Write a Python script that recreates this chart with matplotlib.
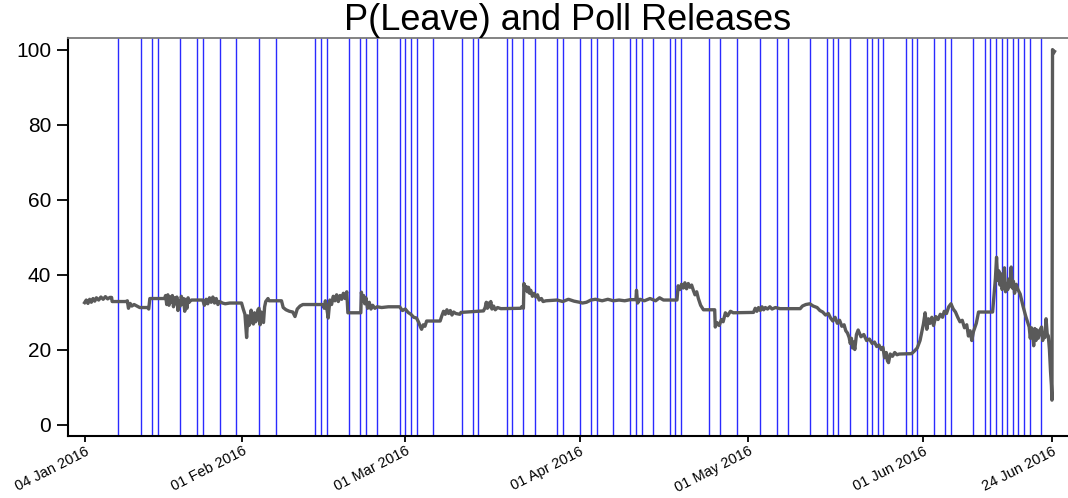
#!/usr/bin/env python3
"""
P(Leave) and Poll Releases
Betting-implied probability of Leave with poll release dates as vertical lines.
"""
import numpy as np
import pandas as pd
import matplotlib
matplotlib.use("Agg")
import matplotlib.pyplot as plt

# ---------- Data ----------
START = pd.Timestamp("2016-01-04")

# poll release days (days after 04 Jan 2016)
POLL_DAYS = [6, 10, 12, 13, 17, 20, 21, 24, 27, 31, 34, 41, 42, 43, 47, 49, 50, 52,
             56, 57, 58, 59, 62, 67, 69, 70, 75, 76, 78, 80, 84, 85, 88, 90, 91, 94,
             97, 98, 99, 101, 104, 105, 106, 111, 113, 116, 120, 123, 125, 129, 132,
             133, 134, 136, 139, 140, 141, 142, 146, 147, 148, 151, 153, 154, 158,
             160, 161, 162, 163, 164, 165, 166, 167, 168, 170]

# P(Leave), month by month: days after 04 Jan 2016 / value
T_JAN = [0.0, 0.3, 0.6, 0.9, 1.2, 1.5, 1.8, 2.1, 2.5, 2.9, 3.3, 3.7, 4.1, 4.5, 4.8, 4.9,
         7.4, 7.6, 7.8, 8.1, 8.4, 8.8, 9.3, 9.8, 11.2, 11.4, 11.6, 14.2, 14.4, 14.6,
         14.8, 15.0, 15.2, 15.4, 15.6, 15.8, 16.0, 16.2, 16.4, 16.6, 16.8, 17.0, 17.2,
         17.4, 17.6, 17.8, 18.0, 18.2, 18.4, 18.6, 18.8, 19.0, 21.0, 21.3, 21.6, 21.9,
         22.2, 22.5, 22.8, 23.1, 23.4, 23.7, 24.0, 24.5, 25.0, 25.8, 27.9]
P_JAN = [32.5, 33.2, 32.3, 33.4, 32.6, 33.6, 32.9, 33.8, 33.2, 34.0, 33.4, 34.1, 33.5, 33.9,
         33.9, 32.8, 32.8, 33.0, 31.0, 32.3, 31.6, 32.0, 31.6, 31.2, 31.2, 30.8, 33.6,
         33.6, 34.4, 32.0, 34.6, 31.8, 34.0, 32.6, 34.4, 31.4, 33.8, 32.2, 34.0, 30.4,
         33.0, 31.6, 34.2, 32.0, 33.6, 30.2, 33.4, 31.0, 33.8, 32.6, 33.0, 33.2, 33.2,
         31.8, 33.4, 32.2, 33.8, 32.6, 34.0, 32.4, 33.6, 32.0, 32.8, 32.4, 32.2, 32.4, 32.4]

T_FEB = [28.2, 28.5, 28.8, 29.0, 29.2, 29.4, 29.6, 29.8, 30.0, 30.2, 30.4, 30.6, 30.8,
         31.0, 31.2, 31.4, 31.6, 31.8, 32.0, 32.2, 32.6, 32.8, 35.0, 35.3, 35.8, 36.4,
         37.0, 37.4, 37.8, 38.3, 38.8, 42.4, 42.6, 42.8, 43.0, 43.3, 43.6, 43.9, 44.2,
         44.5, 44.8, 45.1, 45.4, 45.7, 46.0, 46.3, 46.6, 46.8, 49.1, 49.2, 49.4, 49.6,
         49.8, 50.0, 50.3, 50.6, 50.9, 51.2, 51.6, 52.0, 52.8, 54.0, 56.0]
P_FEB = [30.8, 29.4, 23.2, 29.0, 26.4, 27.0, 30.5, 28.2, 26.8, 29.8, 27.4, 28.0, 30.6,
         31.0, 26.6, 30.0, 28.4, 27.2, 31.4, 32.8, 33.6, 33.0, 33.0, 31.2, 30.6, 30.2,
         30.0, 28.8, 30.8, 31.6, 32.0, 32.0, 31.0, 33.0, 31.6, 28.4, 33.2, 32.0, 34.2,
         33.0, 34.6, 32.8, 34.4, 33.4, 35.0, 33.6, 35.4, 29.8, 29.8, 35.3, 33.0, 34.4,
         32.2, 33.8, 31.0, 32.6, 30.8, 31.8, 31.0, 31.4, 31.2, 31.4, 31.4]

T_MAR = [56.5, 57.0, 57.5, 58.0, 58.5, 59.0, 59.4, 59.7, 59.9, 60.2, 60.5, 60.8, 63.2,
         63.5, 63.8, 64.1, 64.4, 64.7, 65.0, 65.3, 65.6, 66.0, 66.7, 66.9, 70.9, 71.2,
         71.4, 71.6, 71.8, 72.0, 72.2, 72.4, 72.7, 73.0, 73.4, 74.0, 77.5, 77.7, 78.0,
         78.1, 78.3, 78.5, 78.7, 78.9, 79.1, 79.3, 79.6, 79.9, 80.2, 80.5, 80.8, 81.2,
         81.5, 82.0, 84.0, 85.0, 86.0, 87.0, 88.0]
P_MAR = [30.4, 30.8, 29.9, 29.4, 28.6, 28.4, 27.2, 26.0, 25.4, 26.6, 26.2, 27.6, 27.6,
         29.0, 30.2, 29.4, 30.6, 29.6, 30.4, 29.2, 30.0, 29.6, 29.4, 29.9, 30.3, 31.2,
         32.6, 31.0, 32.4, 31.4, 32.8, 30.8, 31.6, 30.6, 31.2, 30.9, 31.0, 31.4, 31.0,
         37.6, 36.0, 36.8, 35.4, 36.6, 35.0, 35.8, 34.2, 35.0, 34.0, 34.6, 33.2, 33.6,
         32.8, 33.0, 33.2, 32.8, 33.4, 32.9, 32.6]

T_APR = [88.5, 89.2, 90.0, 90.8, 92.0, 93.0, 94.0, 95.0, 96.0, 97.0, 98.0, 98.1, 98.3,
         98.7, 99.5, 100.5, 101.5, 102.2, 102.9, 105.3, 105.5, 105.8, 106.1, 106.4,
         106.7, 107.0, 107.3, 107.6, 107.9, 108.2, 108.5, 108.8, 109.1, 109.5, 110.0,
         112.0, 112.1, 112.4, 112.8, 113.2, 113.5, 113.9, 114.3, 114.8, 115.3, 118.9]
P_APR = [32.4, 32.6, 33.2, 33.4, 33.0, 33.4, 33.0, 33.2, 33.0, 33.3, 33.3, 35.8, 32.4,
         33.4, 33.0, 33.6, 33.0, 33.8, 33.2, 33.2, 37.0, 36.0, 37.4, 36.4, 37.8, 36.2,
         37.6, 36.6, 37.2, 35.8, 34.6, 35.4, 33.6, 31.8, 30.6, 30.6, 26.0, 27.2, 26.4,
         28.0, 27.4, 29.8, 29.0, 30.2, 29.8, 29.9]

T_MAY = [119.2, 119.5, 119.8, 120.1, 120.4, 120.7, 121.0, 121.4, 121.8, 122.2, 122.8,
         123.6, 127.2, 127.6, 128.2, 128.9, 129.5, 130.2, 130.7, 131.2, 131.7, 132.2,
         132.6, 133.0, 133.4, 133.8, 134.2, 134.6, 135.0, 135.3, 135.6, 135.9, 136.1,
         136.3, 136.5, 136.7, 136.9, 137.2, 137.5, 138.0, 138.5, 139.0, 139.5, 140.0,
         140.4, 140.8, 141.2, 141.6, 141.9, 142.2, 142.5, 142.7, 142.9, 143.2, 143.6,
         144.0, 144.4, 144.8, 147.0, 147.5, 148.0, 148.5, 148.8]
P_MAY = [31.0, 30.2, 31.2, 30.4, 31.4, 30.6, 31.2, 30.8, 31.4, 30.8, 31.2, 30.9, 30.9,
         31.6, 32.0, 32.2, 31.6, 31.2, 30.4, 30.0, 29.2, 29.6, 28.4, 27.6, 28.6, 27.0,
         27.8, 26.2, 26.6, 25.0, 24.4, 23.2, 21.6, 23.0, 20.4, 22.0, 20.0, 24.0, 25.2,
         23.4, 24.0, 22.4, 22.8, 21.6, 22.0, 20.8, 21.2, 20.0, 20.6, 17.8, 19.2, 17.0,
         16.5, 18.8, 18.2, 19.2, 18.6, 18.8, 18.9, 19.6, 20.4, 22.4, 24.6]

T_JUN = [149.1, 149.4, 149.7, 150.0, 150.3, 150.6, 150.9, 151.3, 151.7, 152.1, 152.5,
         152.8, 153.2, 153.6, 154.0, 154.4, 154.8, 155.2, 155.6, 156.0, 156.4, 156.8,
         157.1, 157.4, 157.7, 158.0, 158.5, 158.9, 161.4, 161.7, 161.9, 162.1, 162.3,
         162.5, 162.7, 162.9, 163.1, 163.3, 163.5, 163.7, 163.9, 164.1, 164.3, 164.5,
         164.7, 164.9, 165.1, 165.3, 165.6, 165.9, 166.3, 166.8, 167.3, 167.9, 168.1,
         168.3, 168.5, 168.7, 168.9, 169.1, 169.3, 169.5, 169.7, 169.9, 170.1, 170.3,
         170.5, 170.7, 170.9, 171.1, 171.3, 171.5, 171.7, 171.85, 171.95, 172.05, 172.2,
         172.4]
P_JUN = [26.8, 29.8, 25.4, 28.2, 27.0, 28.6, 26.4, 28.8, 28.0, 29.4, 28.6, 30.2, 29.6,
         31.4, 32.2, 30.8, 30.0, 28.6, 27.4, 27.8, 25.8, 26.6, 23.6, 25.0, 22.4, 24.8,
         27.0, 30.0, 30.0, 35.2, 39.0, 44.6, 38.4, 41.0, 37.2, 40.2, 36.0, 38.6, 41.8,
         35.4, 37.6, 36.0, 38.8, 36.8, 42.0, 36.4, 38.2, 35.0, 37.4, 36.0, 34.8, 31.6,
         28.8, 26.0, 23.0, 25.8, 24.2, 21.0, 25.6, 22.4, 25.2, 23.0, 24.0, 25.4, 26.0,
         22.4, 24.4, 23.2, 28.2, 24.2, 23.6, 20.0, 14.0, 10.5, 6.5, 100.0, 99.0, 99.5]

X_TICK_DATES = ["2016-01-04", "2016-02-01", "2016-03-01", "2016-04-01",
                "2016-05-01", "2016-06-01", "2016-06-24"]
Y_TICKS = [0, 20, 40, 60, 80, 100]

# ---------- Style ----------
plt.rcParams.update({
    "font.family": ["Liberation Sans", "DejaVu Sans"],
    "axes.linewidth": 1.5,
})

days = np.concatenate([T_JAN, T_FEB, T_MAR, T_APR, T_MAY, T_JUN])
vals = np.concatenate([P_JAN, P_FEB, P_MAR, P_APR, P_MAY, P_JUN])
t = START + pd.to_timedelta(days, unit="D")
poll_dates = START + pd.to_timedelta(POLL_DAYS, unit="D")

# ---------- Plot ----------
fig = plt.figure(figsize=(10.68, 4.98), dpi=100)
ax = fig.add_axes([0.0634, 0.125, 0.9366, 0.798])

for d in poll_dates:
    ax.axvline(d, color="#2a2aff", lw=1.0, zorder=1)
ax.plot(t, vals, color="#5a5a5a", lw=2.4, zorder=3)

ax.set_xlim(START - pd.Timedelta(days=3.0), START + pd.Timedelta(days=174.8))
ax.set_ylim(-3, 103)

ax.set_yticks(Y_TICKS)
ax.set_yticklabels([str(v) for v in Y_TICKS], fontsize=15)
xt = pd.to_datetime(X_TICK_DATES)
ax.set_xticks(xt)
ax.set_xticklabels([d.strftime("%d %b %Y") for d in xt], fontsize=10.5,
                   rotation=27, ha="right", va="top", rotation_mode="anchor")
ax.tick_params(axis="y", length=8, width=1.3, pad=4)
ax.tick_params(axis="x", length=4.5, width=1.3, pad=1.5)

ax.spines["right"].set_visible(False)
ax.spines["top"].set_color("#7a7a7a")
ax.spines["top"].set_linewidth(1.3)

ax.set_title("P(Leave) and Poll Releases", fontsize=26, pad=6)

fig.savefig("out.png", dpi=100)
plt.close(fig)
